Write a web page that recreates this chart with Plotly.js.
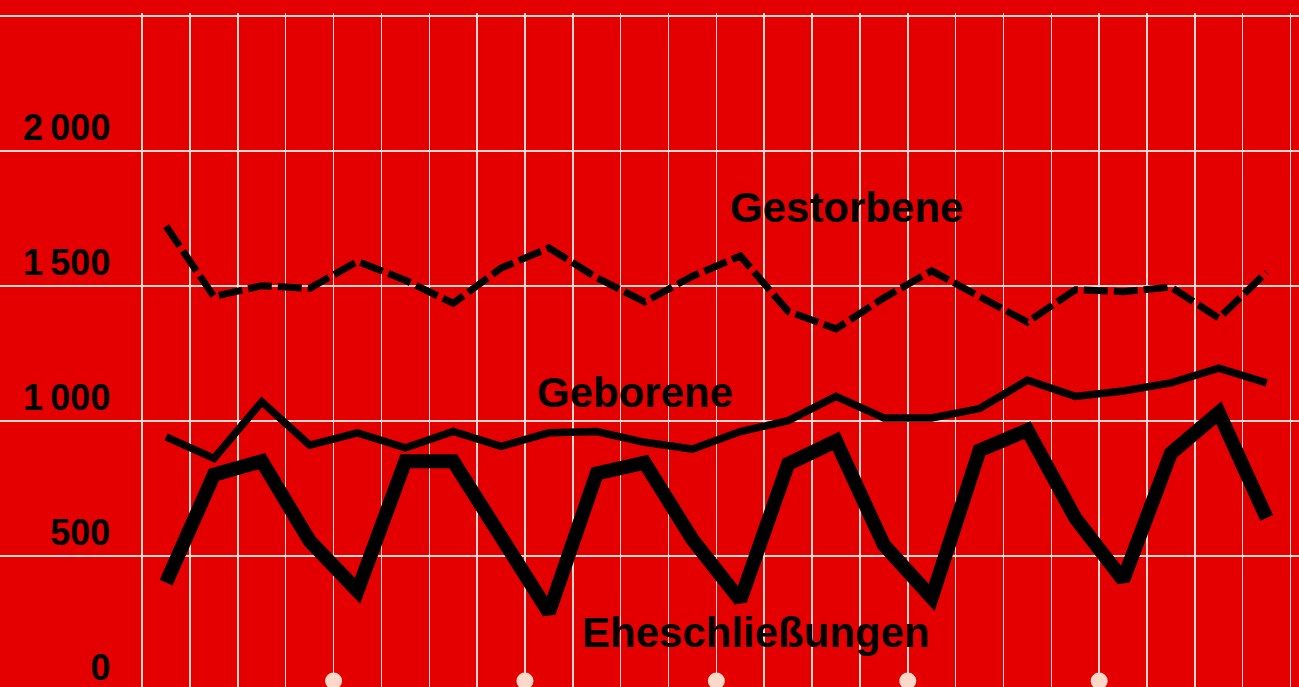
<!DOCTYPE html>
<html>
<head>
<meta charset="utf-8">
<script src="https://cdn.plot.ly/plotly-3.0.1.min.js"></script>
<style>
html,body{margin:0;padding:0;background:#e40000;overflow:hidden;}
#wrap{width:1299px;height:687px;overflow:hidden;}
#chart{width:1299px;height:700px;}
</style>
</head>
<body>
<div id="wrap"><div id="chart"></div></div>
<script>
// Quarter index (6 years x 4 quarters)
const quarters = [0,1,2,3,4,5,6,7,8,9,10,11,12,13,14,15,16,17,18,19,20,21,22,23];

const gestorbene = [1720,1460,1500,1490,1590,1520,1435,1565,1640,1530,1440,1535,1610,1405,1340,1455,1555,1460,1365,1485,1478,1495,1380,1550];
const geborene   = [940,860,1070,910,955,900,960,905,955,960,920,895,960,1000,1090,1010,1010,1045,1150,1090,1110,1140,1195,1140];
const eheschl    = [400,800,850,555,370,850,850,560,290,805,845,560,335,840,925,540,345,890,965,640,410,880,1030,640];

const seriesNames = ["Gestorbene","Geborene","Eheschließungen"];

const yTickVals = [0,500,1000,1500,2000,2500];
const yTickText = ["0","500","1\u2009000","1\u2009500","2\u2009000",""];

// year separators (between quarter 4 and quarter 1)
const yearMarks = [3.5,7.5,11.5,15.5,19.5];

const gridX = [];
for (let k = 0; k <= 24; k++) gridX.push(k - 0.5);

const RED = "#e40000";
const GRID = "rgba(255,228,215,0.95)";

const traces = [
  {x: quarters, y: gestorbene, mode: "lines", name: seriesNames[0],
   line: {color: "#000", width: 7, dash: "24px,6px"}, hoverinfo: "skip"},
  {x: quarters, y: geborene, mode: "lines", name: seriesNames[1],
   line: {color: "#000", width: 7.5}, hoverinfo: "skip"},
  {x: quarters, y: eheschl, mode: "lines", name: seriesNames[2],
   line: {color: "#000", width: 14}, hoverinfo: "skip"},
  {x: yearMarks, y: yearMarks.map(() => 36), mode: "markers", cliponaxis: false,
   marker: {color: "#fcd8c8", size: 17}, hoverinfo: "skip"}
];

const labelFont = {family: "Liberation Sans, Arial, sans-serif", size: 42, color: "#000", weight: "bold"};

const layout = {
  width: 1299, height: 700,
  margin: {l: 0, r: 0, t: 13, b: 0, pad: 0},
  paper_bgcolor: RED, plot_bgcolor: RED,
  showlegend: false,
  xaxis: {
    range: [-3.471, 23.676],
    tickmode: "array", tickvals: gridX,
    showticklabels: false, ticks: "",
    showgrid: true, gridcolor: GRID, gridwidth: 1.5,
    zeroline: false, showline: false, fixedrange: true
  },
  yaxis: {
    range: [-34.4, 2510],
    tickmode: "array", tickvals: yTickVals, ticktext: yTickText,
    anchor: "free", position: 0.085,
    ticks: "", ticklabelshift: -23,
    tickfont: {family: "Liberation Sans, Arial, sans-serif", size: 36, color: "#000", weight: "bold"},
    showgrid: true, gridcolor: GRID, gridwidth: 2,
    zeroline: false, showline: false, fixedrange: true
  },
  annotations: [
    {x: 14.21, y: 1788, xref: "x", yref: "y", text: seriesNames[0], showarrow: false, font: labelFont, xanchor: "center", yanchor: "middle"},
    {x: 9.80, y: 1106, xref: "x", yref: "y", text: seriesNames[1], showarrow: false, font: labelFont, xanchor: "center", yanchor: "middle"},
    {x: 12.33, y: 214, xref: "x", yref: "y", text: seriesNames[2], showarrow: false, font: labelFont, xanchor: "center", yanchor: "middle"}
  ]
};

Plotly.newPlot("chart", traces, layout, {displayModeBar: false, staticPlot: true});
</script>
</body>
</html>
